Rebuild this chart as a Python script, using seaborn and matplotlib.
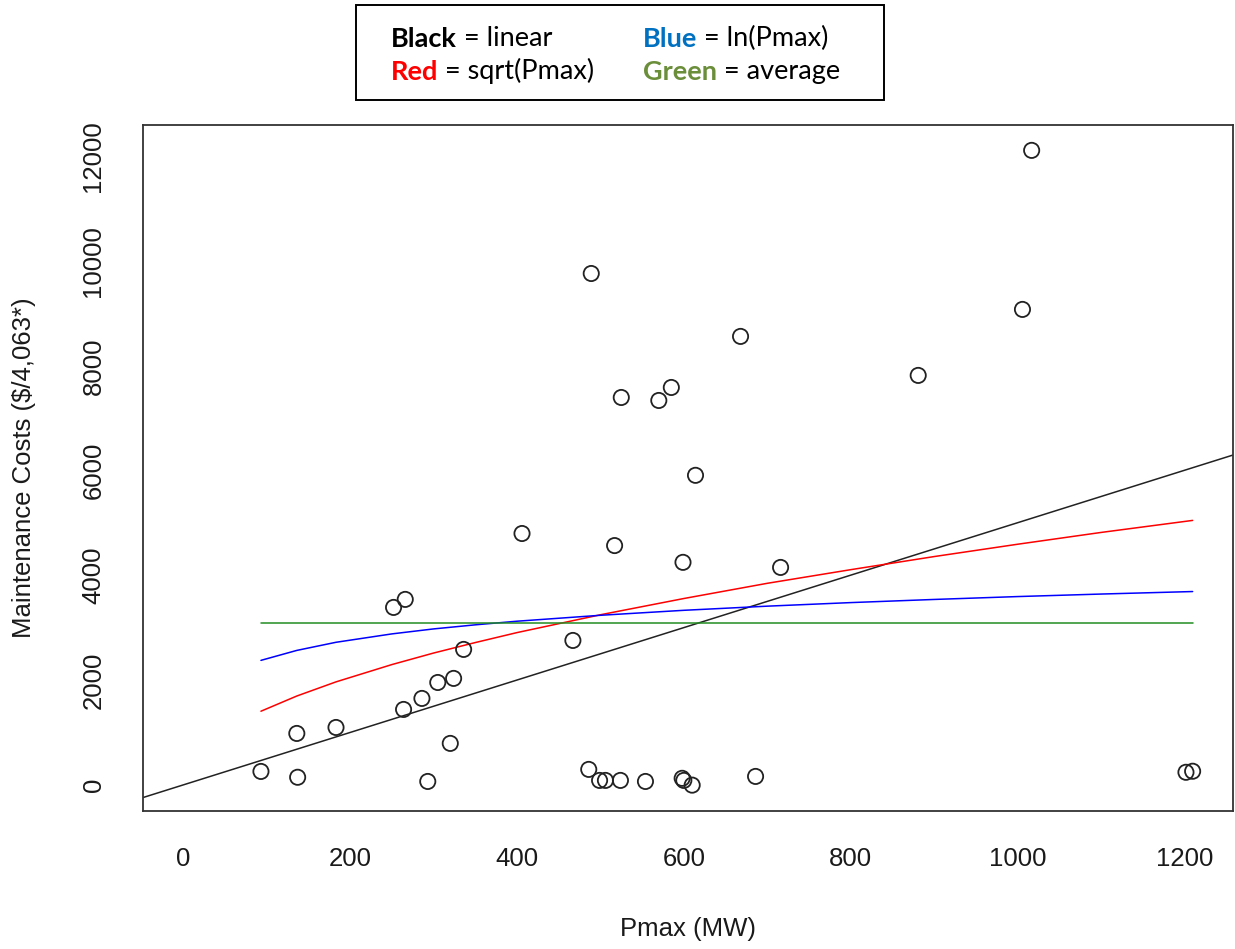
import numpy as np
import pandas as pd
import matplotlib
matplotlib.use("Agg")
import matplotlib.pyplot as plt
import seaborn as sns

# data
pmax = [93, 136, 137, 183, 252, 266, 264, 286, 293, 305, 320, 324, 336,
        406, 467, 486, 489, 499, 506, 517, 524, 525, 554, 570, 585, 598,
        599, 600, 610, 614, 668, 686, 716, 881, 1006, 1017, 1202, 1210]
cost = [261, 986, 150, 1100, 3390, 3543, 1444, 1654, 70, 1958, 796, 2036, 2589,
        4800, 2760, 300, 9760, 90, 90, 4570, 90, 7395, 70, 7338, 7586, 130,
        4250, 90, 0, 5910, 8560, 166, 4153, 7816, 9075, 12109, 245, 265]

# fitted curves, read at a few Pmax values
curve_x = [93, 136, 183, 250, 300, 350, 400, 500, 600, 700, 800, 900, 1000, 1100, 1210]
sqrt_fit = [1410, 1700, 1970, 2300, 2520, 2720, 2910, 3250, 3560, 3850, 4110, 4360, 4595, 4820, 5050]
log_fit = [2380, 2570, 2725, 2885, 2980, 3058, 3127, 3240, 3335, 3414, 3482, 3542, 3597, 3645, 3693]
avg_cost = 3085
lin_intercept = 5
lin_slope = 5.0

pts = pd.DataFrame({"pmax": pmax, "cost": cost})
curves = pd.DataFrame({"pmax": curve_x, "sqrt": sqrt_fit, "log": log_fit,
                       "avg": [avg_cost] * len(curve_x)})

sns.set_style("white")
plt.rcParams["font.family"] = ["Liberation Sans", "DejaVu Sans"]

fig = plt.figure(figsize=(12.35, 9.49), dpi=100)
ax = fig.add_axes([143 / 1235, 1 - 810.5 / 949, 1090 / 1235, 685.5 / 949])

sns.scatterplot(data=pts, x="pmax", y="cost", ax=ax, marker="o", s=120,
                facecolor="none", edgecolor="#222222", linewidth=1.3, zorder=3)

ax.axline((0, lin_intercept), slope=lin_slope, color="#222222", lw=1.1)
sns.lineplot(data=curves, x="pmax", y="sqrt", ax=ax, color="red", lw=1.1,
             sort=False, estimator=None)
sns.lineplot(data=curves, x="pmax", y="log", ax=ax, color="blue", lw=1.1,
             sort=False, estimator=None)
sns.lineplot(data=curves, x="pmax", y="avg", ax=ax, color="forestgreen", lw=1.1,
             sort=False, estimator=None)

ax.set_xlim(-48.4, 1258.4)
ax.set_ylim(-484, 12593)
ax.set_xticks(range(0, 1201, 200))
ax.set_yticks(range(0, 12001, 2000))
ax.tick_params(axis="both", direction="out", length=13, width=1.1,
               color="#333333", labelsize=18.5, labelcolor="#1a1a1a")
ax.tick_params(axis="x", pad=13)
ax.tick_params(axis="y", pad=14)
for lab in ax.get_yticklabels():
    lab.set_rotation(90)
    lab.set_va("center")
for sp in ax.spines.values():
    sp.set_visible(True)
    sp.set_color("#333333")
    sp.set_linewidth(1.3)

ax.set_xlabel("Pmax (MW)", fontsize=18.5, color="#1a1a1a")
ax.set_ylabel("Maintenance Costs (\\$/4,063*)", fontsize=18.5, color="#1a1a1a")
ax.xaxis.set_label_coords(0.5, -0.155)
ax.yaxis.set_label_coords(-0.098, 0.5)

# key box on top
box = plt.Rectangle((356 / 1235, 1 - 100 / 949), 528 / 1235, 95 / 949,
                    transform=fig.transFigure, fill=False, lw=1.4,
                    edgecolor="black")
fig.add_artist(box)

key = [("Black", "black", " = linear", 391, 47),
       ("Red", "#FF0000", " = sqrt(Pmax)", 391, 80),
       ("Blue", "#0070C0", " = ln(Pmax)", 643, 47),
       ("Green", "#6B8E3A", " = average", 643, 80)]
for word, col, rest, px, py in key:
    t = fig.text(px / 1235, 1 - py / 949, word, fontsize=19.5, fontweight="bold",
                 color=col, family="Lato", va="baseline", ha="left")
    ax.annotate(rest, xy=(1, 0), xycoords=t, va="bottom", ha="left",
                fontsize=19.5, family="Lato", color="black",
                annotation_clip=False)

fig.savefig("out.png", dpi=100)
